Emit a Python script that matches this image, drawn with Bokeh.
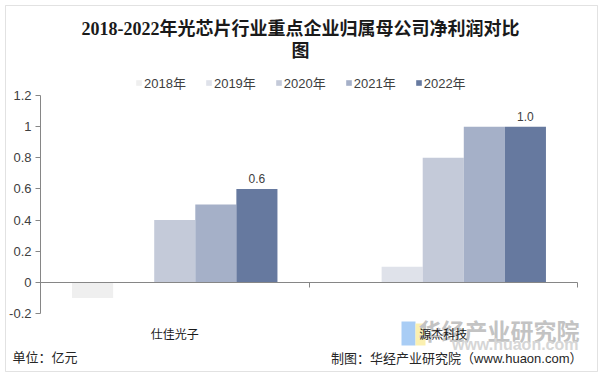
from bokeh.plotting import figure
from bokeh.models import (Legend, LegendItem, FixedTicker, CustomJSTickFormatter,
                          LinearAxis, Label, BoxAnnotation, Range1d)
from bokeh.core.properties import value
from bokeh.embed import file_html
from bokeh.resources import INLINE

# ---------------- data ----------------
companies = ["仕佳光子", "源杰科技"]
years = ["2018年", "2019年", "2020年", "2021年", "2022年"]
v2018 = [-0.1, 0.0]
v2019 = [0.0, 0.1]
v2020 = [0.4, 0.8]
v2021 = [0.5, 1.0]
v2022 = [0.6, 1.0]
series = [v2018, v2019, v2020, v2021, v2022]
colors = ["#efefef", "#dfe2ea", "#c4cad9", "#a5b0c8", "#66799f"]
y_ticks = [-0.2, 0.0, 0.2, 0.4, 0.6, 0.8, 1.0, 1.2]

title_line1 = "2018-2022年光芯片行业重点企业归属母公司净利润对比"
title_line2 = "图"
unit_text = "单位：亿元"
source_text = "制图：华经产业研究院（www.huaon.com）"

SANS = "'Liberation Sans', 'Noto Sans CJK SC'"
TITLE_FONT = "'Liberation Serif', 'Noto Sans CJK SC'"

# ---------------- layout ----------------
W, H = 602, 376
PL, PR, PT, PB = 40, 577, 95, 313          # plot area in canvas pixels
n = len(companies)
ymin, ymax = y_ticks[0], y_ticks[-1]
xs_per_px = n / (PR - PL)
ys_per_px = (ymax - ymin) / (PB - PT)
x_range = Range1d(0 - PL * xs_per_px, n + (W - PR) * xs_per_px)
y_range = Range1d(ymin - (H - PB) * ys_per_px, ymax + PT * ys_per_px)

p = figure(width=W, height=H, output_backend="svg", toolbar_location=None,
           x_range=x_range, y_range=y_range, x_axis_type=None, y_axis_type=None,
           min_border=0)
p.xgrid.visible = False
p.ygrid.visible = False
p.outline_line_color = None
p.background_fill_color = "white"
p.border_fill_color = "white"

# texts (screen units: frame = whole canvas, y measured from bottom)
def lab(text, cx, cy, size, align="center", color="#1a1a1a", font=SANS, style="normal",
        alpha=1.0, level="annotation"):
    p.add_layout(Label(x=cx, y=H - cy, x_units="screen", y_units="screen", text=text,
                       text_align=align, text_baseline="middle", text_font=font,
                       text_font_size=size, text_color=color, text_font_style=style,
                       text_alpha=alpha, level=level))

def box(l, r, t, b, level="annotation", **kw):
    p.add_layout(BoxAnnotation(left=l, right=r, top=H - t, bottom=H - b,
                               left_units="screen", right_units="screen", top_units="screen",
                               bottom_units="screen", level=level, **kw))

# watermark (behind everything)
box(401, 415, 321, 345, level="underlay", fill_color="#a9cdf5", fill_alpha=1.0, line_color=None)
box(415, 425, 323, 345, level="underlay", fill_color="#fbf0b0", fill_alpha=1.0, line_color=None)
lab("华经产业研究院", 579, 331, "23px", align="right", color="#c3c3c3", style="bold",
    level="underlay")
lab("www.huaon.com", 578, 344, "16px", align="right", color="#d6d6d6", style="bold",
    level="underlay")

# y axis at x = 0
yax = LinearAxis(fixed_location=0, bounds=(ymin, ymax),
                 ticker=FixedTicker(ticks=y_ticks),
                 formatter=CustomJSTickFormatter(code="return String(Math.round(tick*10)/10)"),
                 axis_line_color="#868686", major_tick_line_color="#868686",
                 major_tick_in=0, major_tick_out=5, minor_tick_line_color=None,
                 major_label_text_font=SANS, major_label_text_font_size="13px",
                 major_label_text_color="#404040", major_label_standoff=4)
p.add_layout(yax, "left")

# zero line axis with group boundary ticks
zax = LinearAxis(fixed_location=0, bounds=(0, n),
                 ticker=FixedTicker(ticks=list(range(n + 1))),
                 formatter=CustomJSTickFormatter(code="return ''"),
                 axis_line_color="#868686", major_tick_line_color="#868686",
                 major_tick_in=0, major_tick_out=5, minor_tick_line_color=None)
p.add_layout(zax, "below")

# category labels axis at bottom of plot area
cax = LinearAxis(fixed_location=ymin,
                 ticker=FixedTicker(ticks=[k + 0.5 for k in range(n)]),
                 formatter=CustomJSTickFormatter(args=dict(labels=companies),
                                                 code="return labels[Math.round(tick-0.5)]"),
                 axis_line_color=None, major_tick_line_color=None, minor_tick_line_color=None,
                 major_label_standoff=8, major_label_text_font=SANS,
                 major_label_text_font_size="12px", major_label_text_color="#1a1a1a")
p.add_layout(cax, "below")

# bars
bar_w = 0.153
items = []
for i, (yr, vals, col) in enumerate(zip(years, series, colors)):
    off = (i - 2) * bar_w
    xs = [k + 0.5 + off for k in range(n)]
    r = p.vbar(x=xs, top=vals, bottom=0, width=bar_w, fill_color=col, line_color=None)
    items.append(LegendItem(label=yr, renderers=[r]))
    if i == len(years) - 1:
        p.text(x=xs, y=vals, text=[f"{v:.1f}" for v in vals], text_align="center",
               text_baseline="bottom", y_offset=-6, text_font=value("Liberation Sans"),
               text_font_size="12px", text_color="#404040")

legend = Legend(items=items, orientation="horizontal", location=(135, H - 92),
                glyph_width=7, glyph_height=7, label_standoff=2, spacing=19,
                padding=0, margin=0, border_line_color=None, background_fill_alpha=0,
                label_text_font=SANS, label_text_font_size="13px",
                label_text_color="#404040", label_height=16)
p.add_layout(legend, "center")

lab(title_line1, 300, 28, "18px", font=TITLE_FONT, style="bold")
lab(title_line2, 300, 50, "18px", font=TITLE_FONT, style="bold")

lab(unit_text, 12, 357, "13px", align="left", color="#262626")
lab(source_text, 582, 358, "13px", align="right", color="#262626")

# outer border
box(5, 597, 5, 371, fill_alpha=0, line_color="#a0a0a0", line_width=1)

open("out.html", "w").write(file_html(p, INLINE))
